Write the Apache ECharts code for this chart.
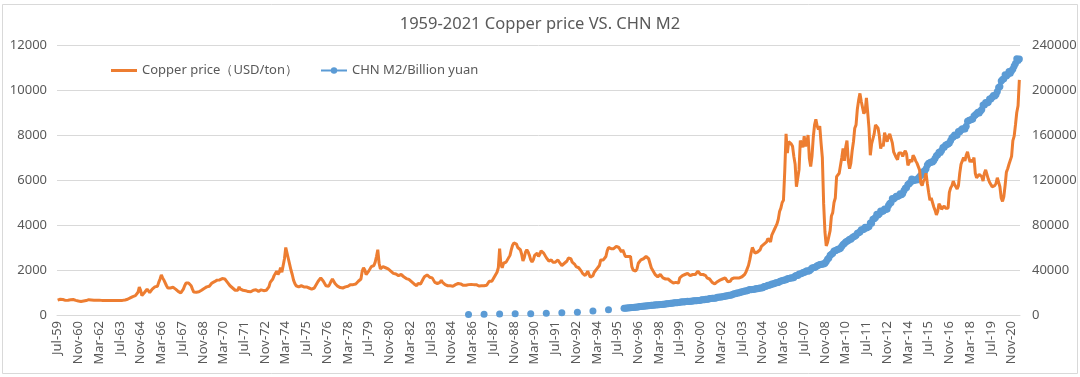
<!DOCTYPE html>
<html>
<head>
<meta charset="utf-8">
<script src="https://cdn.jsdelivr.net/npm/echarts@6/dist/echarts.min.js"></script>
<style>
  html, body { margin: 0; padding: 0; background: #fff; }
  #chart { width: 1080px; height: 377px; }
</style>
</head>
<body>
<div id="chart"></div>
<script>
// monthly categories, Jul-59 .. May-21
var monthNames = ['Jan','Feb','Mar','Apr','May','Jun','Jul','Aug','Sep','Oct','Nov','Dec'];
var months = [];
for (var y = 1959; y <= 2021; y++) {
    for (var m = 0; m < 12; m++) {
        if (y === 1959 && m < 6) continue;
        if (y === 2021 && m > 4) continue;
        months.push(monthNames[m] + '-' + String(y).slice(2));
    }
}

// copper price, USD/ton, one row per year
var copperPrice = [
    660,690,700,680,690,660,                                   // 1959 Jul-Dec
    650,650,660,660,680,690,690,670,650,640,620,610,           // 1960
    600,610,620,630,640,660,680,680,670,660,660,660,           // 1961
    660,660,660,660,650,650,650,650,650,650,650,650,           // 1962
    640,640,640,640,640,640,650,650,650,660,670,670,           // 1963
    700,720,760,800,820,800,860,920,1010,1240,1100,860,        // 1964
    920,1000,1050,1150,1100,1000,1080,1150,1200,1250,1180,1280, // 1965
    1450,1600,1780,1650,1550,1570,1300,1200,1150,1200,1150,1230, // 1966
    1200,1150,1100,1050,1000,980,1050,1150,1300,1420,1380,1420, // 1967
    1400,1300,1150,1020,1000,1010,1020,1030,1050,1100,1150,1180, // 1968
    1200,1250,1300,1280,1350,1420,1450,1480,1500,1550,1600,1560, // 1969
    1600,1620,1640,1600,1550,1450,1380,1300,1250,1200,1150,1100, // 1970
    1050,1100,1250,1150,1100,1100,1120,1080,1050,1040,1000,1030, // 1971
    1060,1100,1150,1120,1080,1050,1100,1120,1100,1080,1080,1100, // 1972
    1150,1250,1450,1500,1600,1750,1850,1950,1800,1900,2100,1900, // 1973
    2200,2500,3000,2950,2500,2250,2000,1800,1550,1400,1300,1250, // 1974
    1250,1300,1300,1350,1250,1200,1250,1250,1200,1200,1150,1200, // 1975
    1200,1300,1400,1500,1580,1650,1650,1500,1400,1300,1250,1280, // 1976
    1380,1500,1600,1500,1400,1350,1280,1240,1220,1220,1200,1230, // 1977
    1250,1300,1280,1300,1350,1320,1350,1400,1380,1450,1500,1480, // 1978
    1600,1950,2100,2000,1800,1850,1950,2000,2150,2100,2200,2350, // 1979
    2600,2900,2300,2050,2100,2150,2200,2100,2100,2050,2000,1950, // 1980
    1900,1850,1800,1820,1780,1750,1720,1800,1750,1700,1650,1620, // 1981
    1600,1580,1500,1480,1420,1380,1340,1300,1400,1450,1380,1420, // 1982
    1600,1700,1720,1780,1700,1680,1700,1650,1550,1450,1400,1400, // 1983
    1400,1450,1550,1450,1400,1350,1300,1300,1320,1300,1250,1280, // 1984
    1330,1350,1380,1400,1450,1380,1350,1320,1300,1320,1330,1350, // 1985
    1370,1360,1380,1350,1380,1350,1330,1290,1300,1300,1280,1300, // 1986
    1300,1320,1400,1500,1480,1500,1600,1700,1800,1900,2100,2950, // 1987
    2250,2100,2300,2250,2350,2450,2500,2650,2900,3100,3200,3250, // 1988
    3150,3000,3050,2900,2700,2400,2550,2800,2900,2800,2650,2450, // 1989
    2350,2450,2650,2700,2750,2600,2700,2850,2800,2750,2650,2550, // 1990
    2500,2400,2350,2450,2350,2300,2350,2400,2450,2350,2300,2200, // 1991
    2250,2300,2350,2400,2530,2450,2500,2350,2300,2250,2150,2150, // 1992
    2100,2100,1950,1850,1800,1750,1850,1950,1800,1680,1700,1750, // 1993
    1900,1950,2050,2050,2200,2450,2500,2450,2500,2600,2850,3000, // 1994
    3050,2950,2900,2950,2900,3050,3050,3000,2950,2800,2900,2750, // 1995
    2600,2550,2600,2550,2600,2150,2000,1950,1950,2050,2300,2250, // 1996
    2450,2450,2500,2450,2600,2600,2500,2300,2100,2000,1950,1800, // 1997
    1750,1700,1750,1800,1750,1650,1650,1600,1650,1600,1550,1500, // 1998
    1450,1420,1380,1450,1500,1420,1650,1700,1750,1750,1800,1800, // 1999
    1850,1800,1750,1750,1800,1750,1800,1850,1950,1900,1800,1850, // 2000
    1800,1800,1750,1650,1700,1600,1550,1450,1400,1380,1420,1480, // 2001
    1500,1550,1600,1600,1600,1650,1650,1480,1480,1500,1600,1600, // 2002
    1650,1700,1650,1600,1650,1650,1700,1750,1800,1900,2050,2200, // 2003
    2450,2750,3000,2950,2750,2700,2800,2850,2900,3050,3050,3150, // 2004
    3200,3250,3400,3400,3250,3550,3600,3800,3850,4050,4250,4600, // 2005
    4750,5000,5100,6400,8050,7200,7700,7700,7600,7500,7050,6700, // 2006
    5700,5700,6450,7750,7650,7450,7950,7500,7650,8000,6950,6600, // 2007
    7050,7900,8450,8700,8400,8250,8400,7650,7000,4950,3700,3070, // 2008
    3220,3300,3750,4400,4550,5000,5200,6150,6200,6300,6650,7000, // 2009
    7400,6850,7450,7750,6850,6500,6750,7300,7700,8300,8450,9150, // 2010
    9550,9850,9500,9500,8950,9050,9650,9000,8300,7100,7600,7550, // 2011
    8050,8450,8450,8300,7950,7400,7600,7500,8100,8050,7700,7950, // 2012
    8050,8050,7650,7250,7250,7000,6900,7200,7150,7200,7050,7200, // 2013
    7300,7150,6650,6650,6900,6800,7100,7000,6850,6750,6700,6450, // 2014
    5850,5750,5950,6050,6300,5850,5450,5100,5200,5200,4800,4650, // 2015
    4450,4600,4950,4850,4700,4650,4850,4750,4700,4750,5450,5650, // 2016
    5750,5950,5800,5700,5600,5750,6300,6700,6850,7000,6850,7100, // 2017
    7250,7000,6800,6900,6800,7000,6300,6100,6100,6250,6200,6150, // 2018
    5950,6300,6450,6450,6050,5900,5950,5700,5750,5750,5850,6100, // 2019
    6050,5700,5200,5050,5250,5750,6350,6500,6700,6700,7050,7750, // 2020
    7950,8450,9000,9300,10450                                   // 2021 Jan-May
];

// China M2, billion yuan: year-end values 1985-1994
var m2YearEndMonths = ['Dec-85','Dec-86','Dec-87','Dec-88','Dec-89','Dec-90','Dec-91','Dec-92','Dec-93','Dec-94'];
var m2YearEnd = [520, 672, 833, 1010, 1195, 1529, 1935, 2540, 3488, 4692];

// China M2, billion yuan: monthly from Dec-95
var m2MonthlyStart = 'Dec-95';
var m2Monthly = [
    6075,
    6015,6200,6320,6400,6480,6620,6680,6780,6950,7020,7150,7610,
    7520,7700,7820,7900,8000,8240,8280,8400,8560,8600,8700,9100,
    8950,9050,9220,9300,9380,9600,9640,9780,9980,10050,10150,10450,
    10500,10680,10800,10850,10950,11160,11300,11450,11700,11650,11750,11990,
    12160,12100,12290,12300,12430,12650,12600,12750,12940,12960,13050,13460,
    13560,13650,13950,14000,14080,14740,14700,14780,15000,15000,15170,15830,
    15700,15900,16050,16200,16350,16930,16900,17140,17540,17600,17850,18500,
    18800,18950,19470,19600,19850,20400,20500,20800,21300,21300,21600,22120,
    22600,22400,22700,22800,22950,23600,23400,23700,24100,24000,24250,25410,
    25400,25700,26400,26500,26800,27500,27600,28000,28700,28600,29000,29880,
    30300,30400,31000,31200,31400,32300,32400,32600,33200,33000,33300,34560,
    35100,35100,36400,36500,36800,37800,37700,38700,39400,38800,39400,40340,
    41700,42100,42300,42900,43700,44300,44800,44900,45300,45300,45900,47520,
    49600,50700,53100,54100,54900,56900,57100,57700,58500,58600,59400,61020,
    62600,63600,64900,65600,66300,67400,67400,68700,69600,69900,71000,72590,
    73100,73700,75800,75800,76300,78100,77300,78000,78700,81700,81600,85160,
    85600,86700,89600,88900,90100,92500,92000,92500,94300,93700,94200,97410,
    99200,99900,103600,103200,104300,105500,105300,106100,107700,107000,107900,110650,
    112600,113300,116000,116600,118100,120900,119400,119700,120200,119900,121500,122840,
    124300,125100,127600,128100,130100,133300,135000,135300,135900,136100,137400,139230,
    141600,142500,144600,144500,146200,149000,149200,151000,151600,151900,153000,155010,
    157600,158300,159900,159600,160100,163100,162900,164500,165600,165300,165300,167680,
    172300,172900,173400,173800,174300,177000,177700,178900,180200,179600,181300,182670,
    186600,186700,188900,188400,189100,192100,191900,193500,195200,194600,196100,198650,
    202300,203100,208100,209400,210000,213500,212500,213700,216500,215000,217200,218680,
    221300,223600,227700,226200,227600
];

// put M2 on the month categories
var m2 = months.map(function () { return null; });
m2YearEndMonths.forEach(function (mon, i) {
    m2[months.indexOf(mon)] = m2YearEnd[i];
});
var start = months.indexOf(m2MonthlyStart);
m2Monthly.forEach(function (v, i) {
    m2[start + i] = v;
});

var textColor = '#595959';
var gridColor = '#d9d9d9';
var font = 'Noto Sans';

function plain(v) { return String(v); }

var chart = echarts.init(document.getElementById('chart'));
var option = {
    animation: false,
    backgroundColor: '#fff',
    title: {
        text: '1959-2021 Copper price VS. CHN M2',
        left: 'center',
        top: 11,
        textStyle: {
            color: textColor,
            fontSize: 16.5,
            fontWeight: 'normal',
            fontFamily: font
        }
    },
    legend: {
        left: 106,
        top: 59,
        itemWidth: 26,
        itemHeight: 8,
        itemGap: 22,
        textStyle: {
            color: textColor,
            fontSize: 13,
            fontFamily: font
        },
        data: [
            { name: 'Copper price（USD/ton）', icon: 'path://M0,0 L26,0 L26,3 L0,3 Z', itemStyle: { color: '#ED7D31' } },
            { name: 'CHN M2/Billion yuan' }
        ]
    },
    graphic: [{
        type: 'rect',
        shape: { x: 2.5, y: 4.5, width: 1075, height: 369 },
        style: { fill: 'none', stroke: gridColor, lineWidth: 1 },
        silent: true
    }],
    grid: {
        left: 57,
        right: 60,
        top: 45,
        bottom: 62
    },
    xAxis: {
        type: 'category',
        data: months,
        boundaryGap: true,
        axisLine: { show: true, lineStyle: { color: gridColor } },
        axisTick: { show: false },
        axisLabel: {
            interval: 15,
            rotate: 90,
            color: textColor,
            fontSize: 13,
            fontFamily: font,
            margin: 6
        }
    },
    yAxis: [{
        type: 'value',
        min: 0,
        max: 12000,
        interval: 2000,
        axisLine: { show: false },
        axisTick: { show: false },
        splitLine: { lineStyle: { color: gridColor } },
        axisLabel: {
            color: textColor,
            fontSize: 13,
            fontFamily: font,
            margin: 10,
            formatter: plain
        }
    }, {
        type: 'value',
        min: 0,
        max: 240000,
        interval: 40000,
        axisLine: { show: false },
        axisTick: { show: false },
        splitLine: { show: false },
        axisLabel: {
            color: textColor,
            fontSize: 13,
            fontFamily: font,
            margin: 12,
            formatter: plain
        }
    }],
    series: [{
        name: 'Copper price（USD/ton）',
        type: 'line',
        yAxisIndex: 0,
        data: copperPrice,
        showSymbol: false,
        symbol: 'none',
        color: '#ED7D31',
        lineStyle: { width: 3, color: '#ED7D31' },
        z: 3
    }, {
        name: 'CHN M2/Billion yuan',
        type: 'line',
        yAxisIndex: 1,
        data: m2,
        symbol: 'circle',
        symbolSize: 7,
        showSymbol: true,
        showAllSymbol: true,
        color: '#5B9BD5',
        itemStyle: { color: '#5B9BD5' },
        lineStyle: { width: 3, color: '#5B9BD5' },
        z: 2
    }]
};
chart.setOption(option);
</script>
</body>
</html>
